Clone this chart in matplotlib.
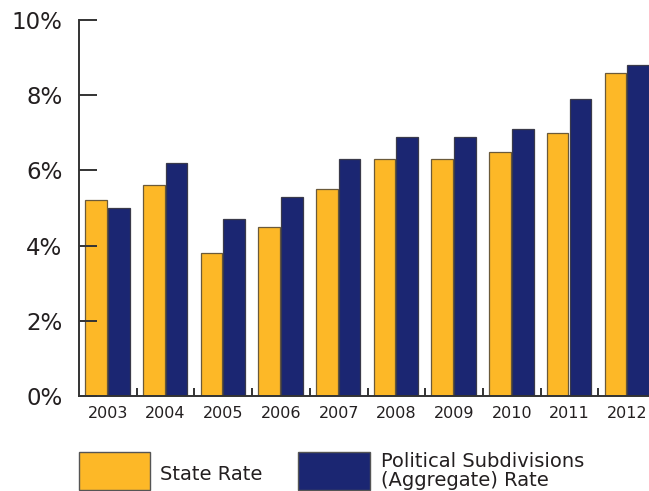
import matplotlib.pyplot as plt
import numpy as np
from matplotlib.patches import Rectangle
from matplotlib.ticker import FixedLocator

plt.rcParams['font.family'] = ['DejaVu Sans']

# data
years = ['2003', '2004', '2005', '2006', '2007', '2008', '2009', '2010', '2011', '2012']
state_rate = [5.2, 5.6, 3.8, 4.5, 5.5, 6.3, 6.3, 6.5, 7.0, 8.6]
subdiv_rate = [5.0, 6.2, 4.7, 5.3, 6.3, 6.9, 6.9, 7.1, 7.9, 8.8]
yticks = [0, 2, 4, 6, 8, 10]

yellow = '#FDB827'
navy = '#1B2672'

fig = plt.figure(figsize=(6.49, 4.91), dpi=100)
ax = fig.add_axes([79/649, 1-396/491, 570/649, 376/491])

x = np.arange(len(years))
w = 0.375
ax.bar(x - 0.205, state_rate, w, color=yellow, edgecolor='#6b5a3a', linewidth=0.9)
ax.bar(x + 0.19, subdiv_rate, w, color=navy, edgecolor='#3a3a4a', linewidth=0.9)

ax.set_xlim(-0.5, -0.5 + 570/57.7)
ax.set_ylim(0, 10)

# y axis
ax.set_yticks(yticks)
ax.set_yticklabels([f'{t}%' for t in yticks], fontsize=16.5, color='#231f20')
ax.tick_params(axis='y', direction='in', length=13, width=1.4, color='#333333', pad=12)

# x axis: labels centred, small ticks at the category borders
ax.set_xticks(x)
ax.set_xticklabels(years, fontsize=11.5, color='#231f20')
ax.tick_params(axis='x', which='major', length=0, pad=7)
ax.xaxis.set_minor_locator(FixedLocator(np.arange(0.5, 9.5, 1)))
ax.tick_params(axis='x', which='minor', direction='in', length=6, width=1.4, color='#333333')

for s in ['top', 'right']:
    ax.spines[s].set_visible(False)
for s in ['left', 'bottom']:
    ax.spines[s].set_color('#333333')
    ax.spines[s].set_linewidth(1.4)

# legend drawn by hand
fig.patches.append(Rectangle((79/649, 1-490/491), 71/649, 38/491, transform=fig.transFigure,
                             facecolor=yellow, edgecolor='#555555', linewidth=1))
fig.text(160/649, 1-474/491, 'State Rate', fontsize=14, va='center', color='#231f20')
fig.patches.append(Rectangle((298/649, 1-490/491), 72/649, 38/491, transform=fig.transFigure,
                             facecolor=navy, edgecolor='#555555', linewidth=1))
fig.text(381/649, 1-471/491, 'Political Subdivisions\n(Aggregate) Rate', fontsize=14,
         va='center', linespacing=0.95, color='#231f20')

fig.savefig('out.png', dpi=100)
